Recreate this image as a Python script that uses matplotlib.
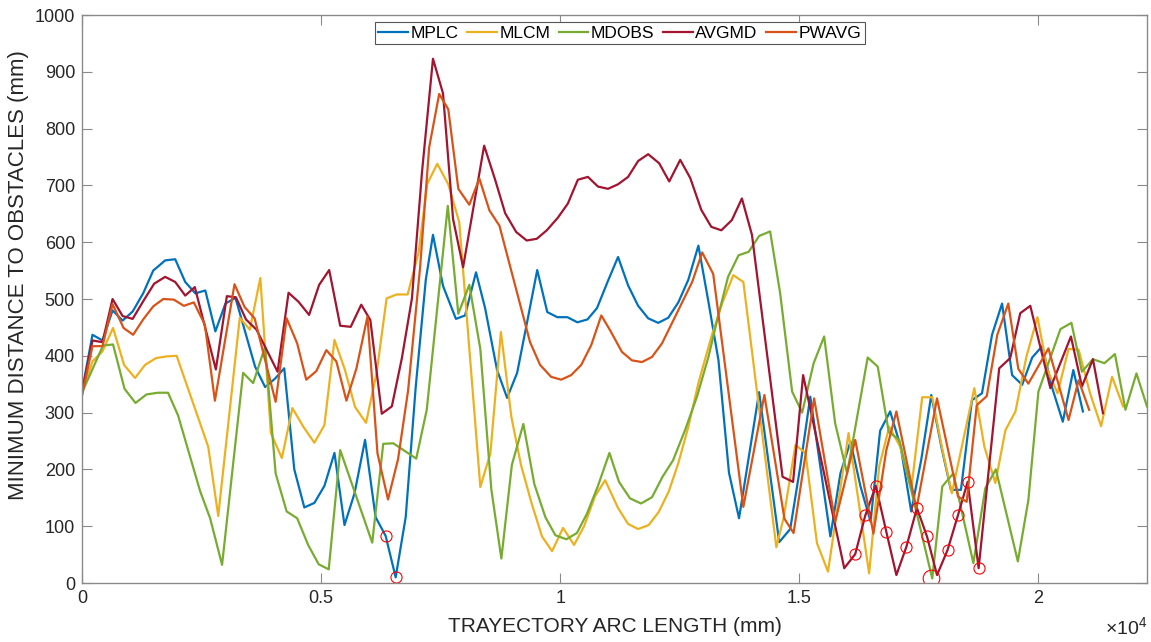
import matplotlib
matplotlib.use('Agg')
import matplotlib.pyplot as plt

plt.rcParams['font.family'] = ['Liberation Sans', 'DejaVu Sans']
plt.rcParams['mathtext.fontset'] = 'custom'
plt.rcParams['mathtext.rm'] = 'Liberation Sans'

# arc length (mm) / min distance (mm) for each method
mplc_x = [0, 220, 430, 640, 850, 1060, 1280, 1490, 1740, 1950, 2160, 2370, 2580, 2790, 3000, 3210, 3620, 3830,
          4040, 4230, 4440, 4650, 4860, 5070, 5280, 5490, 5700, 5920, 6140, 6350, 6560, 6770, 6980, 7190, 7340,
          7550, 7820, 8010, 8240, 8430, 8680, 8890, 9100, 9310, 9520, 9730, 9940, 10150, 10360, 10570, 10770,
          10990, 11210, 11420, 11630, 11840, 12050, 12260, 12470, 12680, 12890, 13100, 13310, 13530, 13740,
          14160, 14580, 14810, 15020, 15230, 15440, 15650, 15860, 16070, 16280, 16490, 16690, 16900, 17120,
          17340, 17550, 17760, 17970, 18170, 18380, 18610, 18820, 19030, 19240, 19450, 19660, 19870, 20080,
          20290, 20510, 20730, 20930]
mplc_y = [337, 437, 427, 480, 462, 478, 510, 550, 568, 570, 530, 510, 515, 443, 492, 502, 381, 345, 360, 378,
          200, 133, 141, 171, 229, 102, 158, 252, 116, 83, 10, 116, 346, 534, 613, 523, 465, 471, 547, 484,
          375, 326, 370, 460, 551, 477, 468, 468, 459, 464, 484, 530, 574, 524, 488, 466, 458, 467, 494, 534,
          594, 495, 392, 194, 114, 336, 72, 95, 205, 328, 205, 82, 193, 249, 170, 108, 268, 302, 240, 126,
          217, 331, 240, 164, 164, 322, 334, 437, 492, 366, 349, 397, 417, 343, 284, 375, 302]

mlcm_x = [0, 220, 430, 650, 880, 1110, 1320, 1550, 1770, 1980, 2640, 2850, 3300, 3510, 3730, 3950, 4180, 4400,
          4630, 4860, 5070, 5280, 5500, 5710, 5940, 6160, 6370, 6580, 6810, 7040, 7220, 7430, 7660, 7890, 8330,
          8540, 8760, 8980, 9180, 9400, 9620, 9830, 10060, 10290, 10500, 10730, 10940, 11210, 11420, 11630,
          11850, 12060, 12270, 12470, 12680, 12890, 13160, 13390, 13620, 13830, 14520, 14670, 14920, 15130,
          15370, 15600, 16030, 16460, 16670, 16880, 17110, 17340, 17570, 17780, 17980, 18190, 18660, 18870,
          19100, 19310, 19520, 19750, 19980, 20190, 20400, 20630, 20840, 21080, 21310, 21540, 21770]
mlcm_y = [335, 390, 408, 449, 384, 361, 384, 396, 399, 400, 240, 118, 467, 446, 537, 264, 220, 308, 275, 247,
          278, 428, 375, 310, 282, 369, 501, 508, 508, 582, 703, 738, 702, 635, 169, 228, 442, 292, 208, 141,
          82, 56, 97, 67, 100, 153, 181, 132, 104, 95, 102, 125, 161, 211, 275, 352, 433, 493, 542, 530,
          63, 114, 243, 229, 70, 20, 264, 17, 205, 275, 240, 164, 327, 327, 240, 158, 343, 240, 176, 269,
          302, 399, 468, 375, 334, 412, 411, 334, 276, 363, 311]

mdobs_x = [0, 440, 650, 890, 1120, 1350, 1590, 1800, 2010, 2470, 2680, 2930, 3370, 3580, 3830, 4050, 4280,
           4500, 4730, 4950, 5160, 5400, 6070, 6300, 6510, 6990, 7210, 7650, 7870, 8100, 8330, 8560, 8770,
           8990, 9230, 9460, 9690, 9900, 10130, 10350, 10560, 10790, 11030, 11230, 11460, 11690, 11920, 12140,
           12360, 12610, 12860, 13100, 13300, 13510, 13730, 13940, 14160, 14390, 14600, 14850, 15060, 15300,
           15520, 15750, 16000, 16430, 16640, 16870, 17090, 17780, 17990, 18220, 18640, 18890, 19110, 19570,
           19790, 20000, 20460, 20690, 20910, 21140, 21380, 21600, 21820, 22050, 22270]
mdobs_y = [335, 418, 420, 342, 317, 332, 335, 335, 295, 162, 114, 32, 370, 352, 416, 193, 126, 114, 67, 33,
           24, 234, 71, 245, 246, 219, 305, 664, 474, 525, 412, 165, 43, 208, 280, 174, 116, 84, 77, 88,
           122, 171, 229, 178, 149, 140, 151, 187, 216, 269, 328, 398, 469, 539, 577, 583, 611, 619, 510, 337,
           300, 387, 434, 281, 193, 397, 381, 266, 252, 8, 170, 193, 35, 167, 200, 38, 146, 337, 447, 458,
           372, 394, 387, 403, 305, 369, 311]

avgmd_x = [0, 220, 430, 640, 850, 1060, 1280, 1510, 1740, 1950, 2160, 2360, 2800, 3030, 3220, 3430, 3650, 4090,
           4320, 4530, 4750, 4960, 5170, 5400, 5620, 5840, 6030, 6270, 6480, 6690, 6900, 7110, 7340, 7550,
           7760, 7970, 8410, 8640, 8850, 9080, 9300, 9510, 9720, 9950, 10160, 10370, 10580, 10790, 11000,
           11210, 11420, 11630, 11840, 12070, 12280, 12510, 12720, 12950, 13160, 13370, 13590, 13800, 14010,
           14650, 14870, 15080, 15940, 16170, 16380, 16600, 16820, 17030, 17240, 17460, 17670, 17880, 18100,
           18320, 18520, 18750, 19180, 19410, 19620, 19830, 20250, 20680, 20910, 21140, 21350]
avgmd_y = [335, 427, 424, 500, 470, 465, 496, 527, 539, 530, 506, 521, 376, 505, 503, 464, 446, 372, 511, 495,
           472, 525, 551, 453, 451, 490, 463, 298, 311, 396, 501, 723, 923, 862, 641, 556, 770, 710, 651, 618,
           603, 606, 621, 643, 668, 710, 715, 698, 694, 702, 715, 743, 755, 739, 707, 745, 713, 657, 627, 621,
           639, 677, 613, 187, 178, 366, 26, 51, 119, 171, 90, 14, 64, 132, 82, 14, 58, 120, 178, 26,
           378, 396, 475, 488, 343, 434, 346, 394, 299]

pwavg_x = [0, 220, 430, 640, 870, 1070, 1280, 1490, 1700, 1920, 2130, 2340, 2570, 2780, 3190, 3400, 3610, 4050,
           4280, 4500, 4690, 4900, 5110, 5320, 5530, 5740, 5970, 6180, 6400, 6610, 6820, 7070, 7260, 7470,
           7660, 7870, 8100, 8310, 8520, 8730, 9370, 9580, 9810, 10020, 10230, 10440, 10650, 10860, 11050,
           11290, 11500, 11710, 11920, 12130, 12760, 12970, 13200, 13830, 14270, 14690, 14880, 15310, 15750,
           16170, 16550, 16820, 17030, 17450, 17880, 18320, 18500, 18710, 18920, 19140, 19370, 19580, 19790,
           20020, 20210, 20630, 20840, 21060]
pwavg_y = [329, 417, 417, 491, 449, 437, 464, 487, 500, 499, 488, 494, 455, 321, 526, 486, 466, 319, 466, 422,
           358, 373, 410, 390, 321, 378, 469, 228, 147, 218, 339, 555, 767, 861, 834, 694, 666, 712, 656, 629,
           424, 384, 363, 358, 366, 384, 419, 471, 444, 407, 392, 389, 398, 422, 530, 582, 544, 134, 331, 113,
           88, 325, 108, 252, 87, 234, 302, 131, 325, 152, 143, 313, 329, 437, 492, 377, 351, 385, 413, 287,
           357, 305]

# marked points (red circles)
mark_x = [6350, 6560, 16170, 16380, 16600, 16820, 17240, 17460, 17670, 18100, 18320, 18520, 18750]
mark_y = [83, 10, 51, 119, 171, 90, 64, 132, 82, 58, 120, 178, 26]
big_mark_x = [17760]
big_mark_y = [8]

series = [
    ('MPLC', mplc_x, mplc_y, '#0072BD'),
    ('MLCM', mlcm_x, mlcm_y, '#EDB120'),
    ('MDOBS', mdobs_x, mdobs_y, '#77AC30'),
    ('AVGMD', avgmd_x, avgmd_y, '#A2142F'),
    ('PWAVG', pwavg_x, pwavg_y, '#D95319'),
]

fig = plt.figure(figsize=(11.51, 6.42), dpi=100)
ax = fig.add_axes([0.0712, 0.0919, 0.9253, 0.8847])

for name, xs, ys, col in series:
    ax.plot(xs, ys, color=col, lw=1.6, label=name)

ax.plot(mark_x, mark_y, 'o', ls='none', mfc='none', mec='red', ms=8, mew=0.8)
ax.plot(big_mark_x, big_mark_y, 'o', ls='none', mfc='none', mec='red', ms=12, mew=0.8)

ax.set_xlim(0, mdobs_x[-1])
ax.set_ylim(0, 1000)
ax.set_xticks([0, 5000, 10000, 15000, 20000])
ax.set_xticklabels(['0', '0.5', '1', '1.5', '2'])
ax.set_yticks(range(0, 1001, 100))

for sp in ax.spines.values():
    sp.set_color('#8a8a8a')
    sp.set_linewidth(1.0)
ax.tick_params(direction='in', length=7, width=0.8, top=True, right=True,
               color='#8a8a8a', labelcolor='#262626', labelsize=13, pad=5)

ax.set_xlabel('TRAYECTORY ARC LENGTH (mm)', fontsize=15, color='#262626', labelpad=7)
ax.set_ylabel('MINIMUM DISTANCE TO OBSTACLES (mm)', fontsize=16, color='#262626')
ax.yaxis.set_label_coords(-0.05, 0.542)

fig.text(0.9965, 1 - 628 / 642, r'$\times10^{4}$', ha='right', va='center', fontsize=14, color='#262626')

leg = ax.legend(ncol=5, loc='upper center', bbox_to_anchor=(0.505, 0.9877), fontsize=12.5,
                handlelength=1.7, handletextpad=0.15, columnspacing=0.5, borderpad=0.2,
                borderaxespad=0, fancybox=False, framealpha=1, edgecolor='#555555')
leg.get_frame().set_linewidth(0.8)

fig.savefig('out.png', dpi=100)
